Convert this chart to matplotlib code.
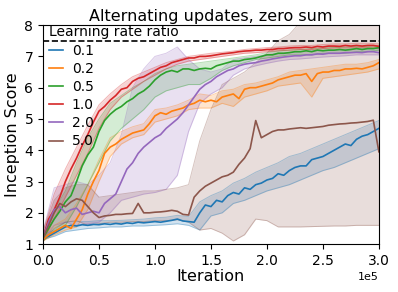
import numpy as np
import matplotlib
matplotlib.use('Agg')
import matplotlib.pyplot as plt

# iterations (in units of 1e5) for the mean curves and for the min/max bands
iters = np.linspace(0, 3, 61)
band_iters = np.linspace(0, 3, 31)

ratios = ['0.1', '0.2', '0.5', '1.0', '2.0', '5.0']
colors = ['#1f77b4', '#ff7f0e', '#2ca02c', '#d62728', '#9467bd', '#8c564b']

# mean inception score per learning rate ratio
mean_01 = [1.2, 1.25, 1.35, 1.45, 1.55, 1.6, 1.58, 1.62, 1.6, 1.63, 1.62, 1.65, 1.63, 1.66, 1.64, 1.68,
           1.66, 1.7, 1.68, 1.7, 1.72, 1.7, 1.73, 1.76, 1.8, 1.74, 1.72, 1.7, 2.0, 2.25, 2.2, 2.4, 2.35,
           2.55, 2.65, 2.6, 2.8, 2.75, 2.9, 2.95, 3.05, 3.1, 3.25, 3.2, 3.35, 3.45, 3.5, 3.5, 3.7, 3.75,
           3.8, 3.9, 4.0, 4.1, 4.2, 4.15, 4.35, 4.45, 4.5, 4.6, 4.7]
mean_02 = [1.15, 1.3, 1.4, 1.5, 1.6, 1.5, 1.8, 2.1, 2.6, 3.0, 3.35, 3.9, 4.1, 4.2, 4.35, 4.45, 4.55,
           4.6, 4.65, 4.85, 5.1, 5.2, 5.15, 5.25, 5.3, 5.35, 5.45, 5.5, 5.6, 5.55, 5.6, 5.55, 5.7, 5.75,
           5.8, 5.65, 5.95, 6.0, 6.0, 6.05, 6.1, 6.15, 6.25, 6.3, 6.35, 6.4, 6.4, 6.45, 6.2, 6.45, 6.5,
           6.5, 6.55, 6.55, 6.6, 6.6, 6.62, 6.6, 6.65, 6.7, 6.8]
mean_05 = [1.2, 1.5, 1.8, 2.05, 2.35, 2.55, 3.0, 3.5, 3.85, 4.1, 4.6, 4.95, 5.15, 5.3, 5.4, 5.55, 5.65,
           5.8, 5.9, 6.05, 6.25, 6.4, 6.5, 6.55, 6.5, 6.6, 6.6, 6.55, 6.6, 6.62, 6.6, 6.7, 6.75, 6.8,
           6.85, 6.85, 6.9, 6.92, 6.95, 7.0, 7.05, 7.05, 7.1, 7.1, 7.12, 7.15, 7.15, 7.18, 7.15, 7.2,
           7.18, 7.2, 7.2, 7.22, 7.2, 7.22, 7.25, 7.22, 7.25, 7.25, 7.28]
mean_10 = [1.2, 1.8, 2.1, 2.5, 3.0, 3.4, 3.75, 4.15, 4.5, 4.9, 5.25, 5.4, 5.6, 5.75, 5.95, 6.0, 6.2,
           6.3, 6.35, 6.45, 6.55, 6.65, 6.7, 6.8, 6.85, 6.9, 6.95, 6.95, 7.0, 7.0, 7.02, 7.05, 7.08,
           7.1, 7.12, 7.15, 7.17, 7.18, 7.2, 7.2, 7.22, 7.22, 7.25, 7.25, 7.27, 7.28, 7.28, 7.3, 7.28,
           7.32, 7.3, 7.33, 7.33, 7.32, 7.35, 7.33, 7.35, 7.33, 7.35, 7.35, 7.32]
mean_20 = [1.2, 1.7, 2.1, 2.2, 2.0, 2.1, 2.15, 1.95, 2.0, 2.05, 2.0, 2.3, 2.45, 2.6, 3.0, 3.4, 3.6, 3.9,
           4.1, 4.25, 4.4, 4.5, 4.7, 4.85, 5.0, 5.2, 5.45, 5.7, 5.95, 6.1, 6.2, 6.35, 6.45, 6.55, 6.6,
           6.7, 6.75, 6.78, 6.8, 6.85, 6.88, 6.92, 6.95, 6.98, 7.0, 7.02, 7.02, 7.05, 7.05, 7.08, 7.07,
           7.1, 7.1, 7.1, 7.12, 7.12, 7.13, 7.12, 7.15, 7.15, 7.12]
mean_50 = [1.2, 1.6, 2.0, 2.3, 2.2, 2.35, 2.45, 2.4, 2.2, 2.0, 1.85, 1.9, 1.92, 1.95, 1.95, 1.97, 1.98,
           2.3, 2.0, 2.0, 2.02, 2.03, 2.05, 2.08, 2.05, 1.95, 1.93, 2.5, 2.7, 2.85, 2.95, 3.05, 3.15,
           3.2, 3.3, 3.55, 3.75, 4.05, 4.95, 4.4, 4.5, 4.6, 4.65, 4.65, 4.68, 4.7, 4.72, 4.7, 4.72,
           4.74, 4.76, 4.8, 4.82, 4.84, 4.85, 4.87, 4.88, 4.9, 4.92, 4.96, 3.95]

# band edges (min / max over runs)
lo_01 = [1.15, 1.25, 1.4, 1.45, 1.5, 1.52, 1.55, 1.55, 1.58, 1.58, 1.6, 1.62, 1.65, 1.6, 1.45, 1.9,
         2.0, 2.3, 2.4, 2.55, 2.7, 2.8, 2.9, 3.05, 3.2, 3.35, 3.45, 3.6, 3.75, 3.9, 4.05]
hi_01 = [1.3, 1.45, 1.7, 1.72, 1.72, 1.75, 1.75, 1.76, 1.78, 1.8, 1.84, 1.86, 1.92, 1.88, 2.35, 2.55,
         2.7, 2.95, 3.1, 3.3, 3.45, 3.6, 3.8, 3.9, 4.05, 4.2, 4.35, 4.5, 4.65, 4.8, 4.95]
lo_02 = [1.1, 1.3, 1.45, 1.55, 2.1, 3.0, 3.8, 4.2, 4.4, 4.5, 4.9, 5.0, 5.1, 5.3, 5.35, 5.35, 5.5,
         5.4, 5.7, 5.8, 5.9, 6.05, 6.1, 6.15, 5.7, 6.3, 6.35, 6.4, 6.45, 6.5, 6.6]
hi_02 = [1.25, 1.6, 1.8, 2.3, 2.9, 3.7, 4.4, 4.6, 4.75, 4.85, 5.3, 5.35, 5.45, 5.6, 5.8, 5.75, 5.9,
         5.95, 6.1, 6.15, 6.25, 6.35, 6.5, 6.55, 6.6, 6.65, 6.7, 6.75, 6.75, 6.8, 6.9]
lo_05 = [1.1, 1.4, 1.6, 2.2, 2.9, 3.6, 4.3, 4.7, 5.0, 5.3, 5.7, 5.9, 6.0, 6.1, 6.1, 6.3, 6.55, 6.7,
         6.8, 6.9, 6.95, 7.0, 7.05, 7.05, 7.05, 7.1, 7.1, 7.1, 7.15, 7.15, 7.2]
hi_05 = [1.3, 2.1, 2.7, 3.6, 4.4, 5.0, 5.5, 5.75, 6.0, 6.2, 6.45, 6.6, 6.7, 6.75, 6.8, 6.85, 6.9,
         6.95, 7.0, 7.05, 7.12, 7.17, 7.2, 7.22, 7.25, 7.27, 7.28, 7.3, 7.32, 7.32, 7.35]
lo_10 = [1.1, 1.8, 2.5, 3.2, 3.9, 4.7, 5.3, 5.7, 5.95, 6.2, 6.4, 6.6, 6.75, 6.85, 6.9, 6.95, 7.0,
         7.05, 7.1, 7.12, 7.15, 7.18, 7.2, 7.22, 7.22, 7.25, 7.27, 7.27, 7.28, 7.28, 7.25]
hi_10 = [1.4, 2.6, 3.4, 4.1, 4.8, 5.45, 5.8, 6.1, 6.35, 6.5, 6.65, 6.8, 6.9, 7.0, 7.05, 7.1, 7.13,
         7.17, 7.22, 7.25, 7.28, 7.3, 7.33, 7.35, 7.35, 7.38, 7.4, 7.4, 7.42, 7.42, 7.4]
lo_20 = [1.1, 1.6, 1.7, 1.6, 1.65, 1.7, 2.0, 2.4, 2.5, 2.6, 2.65, 2.75, 3.2, 4.6, 5.5, 5.8, 6.0,
         6.4, 6.6, 6.7, 6.78, 6.85, 6.9, 6.92, 6.95, 6.98, 7.0, 7.02, 7.05, 7.05, 7.05]
hi_20 = [1.4, 2.8, 2.9, 3.0, 2.9, 3.2, 3.6, 4.5, 6.0, 6.6, 7.0, 7.1, 7.3, 6.9, 6.6, 6.5, 6.6, 6.9,
         6.95, 7.0, 7.05, 7.1, 7.12, 7.15, 7.18, 7.2, 7.2, 7.22, 7.25, 7.25, 7.25]
lo_50 = [1.1, 1.5, 1.7, 1.75, 1.6, 1.65, 1.7, 1.7, 1.72, 1.72, 1.75, 1.75, 1.78, 1.7, 1.45, 1.5,
         1.35, 1.1, 1.3, 1.8, 1.75, 1.55, 1.55, 1.55, 1.56, 1.57, 1.58, 1.58, 1.6, 1.6, 1.6]
hi_50 = [1.4, 2.4, 2.8, 2.9, 2.9, 2.5, 2.55, 2.6, 2.65, 2.7, 2.7, 2.75, 2.8, 2.9, 4.3, 5.3, 6.1,
         6.3, 6.5, 6.8, 7.1, 7.5, 7.7, 8.1, 8.3, 8.5, 8.6, 8.7, 8.8, 8.9, 9.0]

means = [mean_01, mean_02, mean_05, mean_10, mean_20, mean_50]
los = [lo_01, lo_02, lo_05, lo_10, lo_20, lo_50]
his = [hi_01, hi_02, hi_05, hi_10, hi_20, hi_50]

fig = plt.figure(figsize=(3.98, 2.92), dpi=100)
ax = fig.add_axes([0.108, 0.164, 0.844, 0.75])

x = iters * 1e5
bx = band_iters * 1e5
for lo, hi, c in zip(los, his, colors):
    ax.fill_between(bx, lo, hi, color=c, alpha=0.2, linewidth=0)
    ax.plot(bx, lo, color=c, alpha=0.35, lw=0.7)
    ax.plot(bx, hi, color=c, alpha=0.35, lw=0.7)
for m, c, r in zip(means, colors, ratios):
    ax.plot(x, m, color=c, lw=1.2, label=r)

ax.axhline(7.5, color='k', ls='--', lw=1.2)

ax.set_xlim(0, 3e5)
ax.set_ylim(1, 8)
ax.ticklabel_format(axis='x', style='sci', scilimits=(0, 0))
ax.xaxis.get_offset_text().set_fontsize(8)
ax.tick_params(labelsize=10)
ax.set_title('Alternating updates, zero sum', fontsize=11.5, pad=3)
ax.set_xlabel('Iteration', fontsize=11.5, labelpad=1)
ax.set_ylabel('Inception Score', fontsize=11.5, labelpad=3)
ax.legend(title='Learning rate ratio', loc='upper left', bbox_to_anchor=(0.015, 1.005),
          frameon=False, fontsize=10, title_fontsize=10, labelspacing=0.3,
          handlelength=1.0, handletextpad=0.6, borderaxespad=0, borderpad=0.1,
          alignment='left')

fig.savefig('out.png', dpi=100)
